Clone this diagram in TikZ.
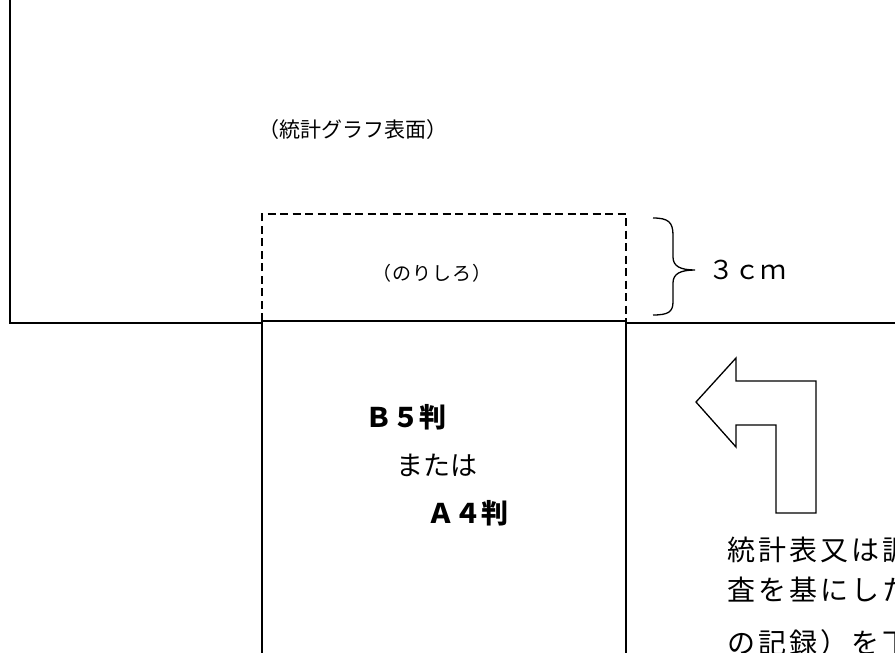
\documentclass[tikz,border=0pt]{standalone}
\usepackage{fontspec}
\setmainfont{Noto Sans CJK JP}
\begin{document}
\begin{tikzpicture}[x=1pt,y=-1pt,line join=miter,line cap=butt,
	edge/.style={line width=1.3pt},
	sheet/.style={line width=1.6pt},
	glue/.style={line width=1.6pt,dash pattern=on 8pt off 4.5pt},
	jtext/.style={inner sep=0pt}]
	\useasboundingbox (0,0) rectangle (895,653);
	\clip (0,0) rectangle (895,653);
	\draw[edge] (10,0)--(10,323)--(262,323);
	\draw[edge] (626,323)--(895,323);
	\draw[glue] (262,321)--(262,214)--(626,214)--(626,321);
	\draw[sheet] (262,653)--(262,319)--(262,321)--(626,321)--(626,653);
	\draw[edge] (653,218) .. controls (668,218) and (673,222) .. (673,235)--(673,257)
		.. controls (673,266) and (680,270) .. (695,270)
		.. controls (680,270) and (673,274) .. (673,283)--(673,302)
		.. controls (673,312) and (668,315) .. (653,315);
	\draw[edge] (696,402)--(736,358)--(736,381)--(816,381)--(816,513)--(776,513)
		--(776,425)--(736,425)--(736,447)--cycle;
	\node[jtext,font=\fontsize{21}{26}\selectfont] (title) at (353,130) {（統計グラフ表面）};
	\node[jtext,font=\fontsize{19}{24}\selectfont\addfontfeature{LetterSpace=6}] (paste) at (432,273) {（のりしろ）};
	\node[jtext,anchor=west,font=\fontsize{26}{30}\selectfont] (width) at (708,270) {３ｃｍ};
	\node[jtext,anchor=west,font=\fontsize{27}{30}\selectfont\bfseries] (b5) at (365,417) {Ｂ５判};
	\node[jtext,anchor=west,font=\fontsize{27}{30}\selectfont] (or) at (396,465) {または};
	\node[jtext,anchor=west,font=\fontsize{27}{30}\selectfont\bfseries] (a4) at (427,513) {Ａ４判};
	\node[jtext,anchor=north west,align=left,
		font=\fontsize{28}{40}\selectfont\addfontfeature{LetterSpace=11}] (note) at (727,537)
		{統計表又は調\\査を基にした\\[13pt]の記録）を下};
\end{tikzpicture}
\end{document}
